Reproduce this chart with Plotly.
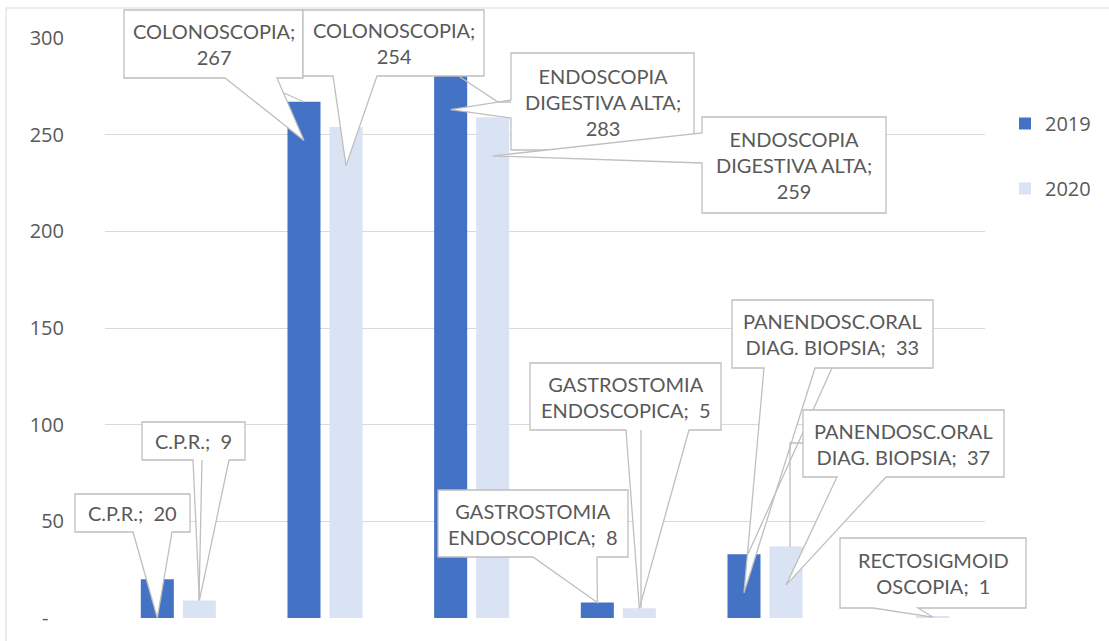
import plotly.graph_objects as go

# ---------------- data ----------------
categories = ["C.P.R.", "COLONOSCOPIA", "ENDOSCOPIA DIGESTIVA ALTA",
              "GASTROSTOMIA ENDOSCOPICA", "PANENDOSC.ORAL DIAG. BIOPSIA",
              "RECTOSIGMOIDOSCOPIA"]
values_2019 = [20, 267, 283, 8, 33, None]
values_2020 = [9, 254, 259, 5, 37, 1]
series_names = ["2019", "2020"]
y_tickvals = [0, 50, 100, 150, 200, 250, 300]
y_ticktext = ["-\u00a0\u00a0\u00a0", "50", "100", "150", "200", "250", "300"]
label_names = ["C.P.R.", "COLONOSCOPIA", "ENDOSCOPIA<br>DIGESTIVA ALTA",
               "GASTROSTOMIA<br>ENDOSCOPICA", "PANENDOSC.ORAL<br>DIAG. BIOPSIA",
               "RECTOSIGMOID<br>OSCOPIA"]

# ---------------- styles / layout ----------------
W, H = 1109, 641
PL, PR, PT, PB = 105, 985, 38, 618     # plot area in px
YMAX = 300
BARGAP, GROUPGAP = 0.427, 0.214
COLORS = ["#4472C4", "#DAE3F3"]
TXT = "#595959"
FONT = "Lato"
TICKFONT = "Open Sans"
FS = 20
sep = ["\u00a0 ", "<br>", "<br>", "\u00a0 ", "\u00a0 ", "\u00a0 "]
NCAT = len(categories)


# pixel -> paper coordinates (callout boxes are placed in the chart's pixel frame)
def xp(px):
    return (px - PL) / (PR - PL)


def yp(py):
    return (PB - py) / (PB - PT)


# data -> paper coordinates (tips of the callouts point at the bars)
def bar_xp(series, idx):
    off = (1 - BARGAP) / 4
    xdata = idx + (-off if series == 0 else off)
    return (xdata + 0.5) / NCAT


def val_yp(v):
    return v / YMAX


# callouts: series, category index, box(px), side, wedge base(px), tip y (data)
callouts = [
    (0, 0, (75, 494, 190, 532), "bottom", (133, 172), 0),
    (0, 1, (124, 10, 303, 78), "bottom", (225, 277), 247),
    (0, 2, (511, 53, 694, 150), "left", (100, 118), 263),
    (0, 3, (438, 490, 628, 557), "bottom", (533, 597), 8),
    (0, 4, (732, 300, 933, 368), "bottom", (764, 815), 13),
    (1, 0, (142, 422, 245, 460), "bottom", (193, 229), 9),
    (1, 1, (303, 10, 484, 76), "bottom", (333, 377), 234),
    (1, 2, (702, 117, 886, 213), "left", (133, 163), 239),
    (1, 3, (530, 363, 721, 430), "bottom", (626, 689), 5),
    (1, 4, (803, 410, 1004, 477), "bottom", (837, 886), 17),
    (1, 5, (840, 538, 1026, 608), "bottom", (873, 918), 0.5),
]
# leader lines (px polylines), drawn right after the callout of the same key
leaders = {
    (1, 0): [(202, 460), (199, 600)],
    (0, 1): [(284, 93), (304, 102)],
    (0, 2): [(511, 102), (498, 102), (460, 77)],
    (1, 3): [(641, 430), (641, 608)],
    (0, 4): [(832, 368), (748, 554)],
    (1, 4): [(803, 443), (790, 443), (790, 547)],
}

fig = go.Figure()
for s, (name, vals) in enumerate(zip(series_names, [values_2019, values_2020])):
    fig.add_trace(go.Bar(
        x=categories, y=vals, name=name, legendgroup=name,
        marker=dict(color=COLORS[s], line=dict(width=0)),
        hoverinfo="skip",
    ))

shapes = []
annotations = []
# outer chart border
shapes.append(dict(type="rect", xref="paper", yref="paper",
                   x0=xp(6), x1=xp(1300), y0=yp(800), y1=yp(8),
                   line=dict(color="#D9D9D9", width=1), fillcolor="rgba(0,0,0,0)",
                   layer="below"))

vals_all = [values_2019, values_2020]
for s, idx, box, side, base, tip_y in callouts:
    x0, y0, x1, y1 = box
    P = lambda px, py: f"{xp(px):.6f},{yp(py):.6f}"
    T = f"{bar_xp(s, idx):.6f},{val_yp(tip_y):.6f}"
    b1, b2 = base
    if side == "bottom":
        path = (f"M{P(x0, y0)} L{P(x1, y0)} L{P(x1, y1)} L{P(b2, y1)} "
                f"L{T} L{P(b1, y1)} L{P(x0, y1)} Z")
    else:
        path = (f"M{P(x0, y0)} L{P(x1, y0)} L{P(x1, y1)} L{P(x0, y1)} "
                f"L{P(x0, b2)} L{T} L{P(x0, b1)} Z")
    shapes.append(dict(type="path", xref="paper", yref="paper", path=path,
                       fillcolor="white", line=dict(color="#BFBFBF", width=1.3),
                       layer="above"))
    if (s, idx) in leaders:
        pts = leaders[(s, idx)]
        lp = "M" + " L".join(P(a, b) for a, b in pts)
        shapes.append(dict(type="path", xref="paper", yref="paper", path=lp,
                           line=dict(color="#BFBFBF", width=1.3), layer="above"))
    text = f"{label_names[idx]};{sep[idx]}{vals_all[s][idx]}"
    annotations.append(dict(
        x=xp((x0 + x1) / 2), y=yp((y0 + y1) / 2), xref="paper", yref="paper",
        text=text, showarrow=False, xanchor="center", yanchor="middle",
        align="center", font=dict(family=FONT, size=FS, color=TXT)))

fig.update_layout(
    width=W, height=H,
    margin=dict(l=PL, r=W - PR, t=PT, b=H - PB, autoexpand=False),
    paper_bgcolor="white", plot_bgcolor="white",
    barmode="group", bargap=BARGAP, bargroupgap=GROUPGAP,
    font=dict(family=FONT, size=FS, color=TXT),
    showlegend=True,
    legend=dict(x=xp(1005), y=yp(104),
                xanchor="left", yanchor="top", tracegroupgap=36,
                font=dict(family=TICKFONT, size=FS, color=TXT),
                bgcolor="rgba(0,0,0,0)", borderwidth=0, traceorder="grouped"),
    xaxis=dict(range=[-0.5, NCAT - 0.5], autorange=False,
               showticklabels=False, showgrid=False, showline=False,
               zeroline=False, ticks=""),
    yaxis=dict(range=[0, YMAX], autorange=False,
               tickvals=y_tickvals, ticktext=y_ticktext,
               showgrid=True, gridcolor="#D9D9D9", gridwidth=1,
               zeroline=False, showline=False, ticks="",
               ticklabelstandoff=40,
               tickfont=dict(family=TICKFONT, size=FS, color=TXT)),
    shapes=shapes, annotations=annotations,
)

fig.write_html("out.html", config={"displayModeBar": False},
               post_script="document.body.style.margin='0';")
